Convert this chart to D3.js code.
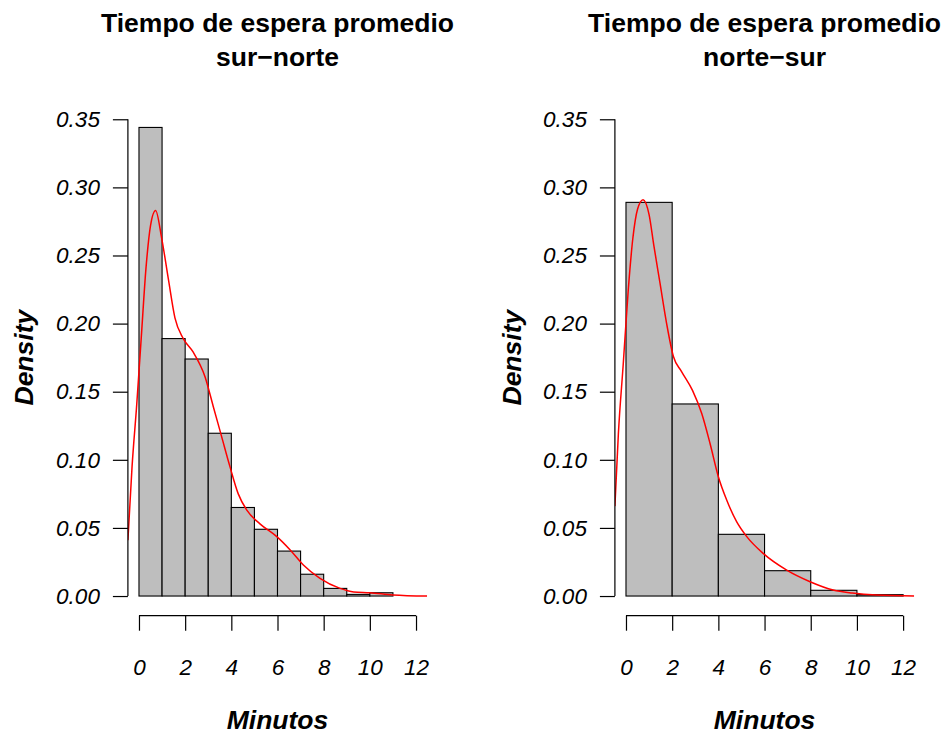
<!DOCTYPE html>
<html><head><meta charset="utf-8">
<script src="https://cdn.jsdelivr.net/npm/d3@7"></script>
<style>body{margin:0;background:#fff}svg{display:block}text{font-family:"Liberation Sans",Arial,Helvetica,sans-serif}</style>
</head><body><div id="chart"></div>
<script>
// ---- data ----
const titles = [["Tiempo de espera promedio","sur\u2212norte"],["Tiempo de espera promedio","norte\u2212sur"]];
const xLabel = "Minutos";
const yLabel = "Density";
const xTicks = [0,2,4,6,8,10,12];
const yTicks = [0,0.05,0.10,0.15,0.20,0.25,0.30,0.35];

const leftBreaks = [0,1,2,3,4,5,6,7,8,9,10,11];
const leftDensity = [0.344,0.189,0.174,0.1195,0.065,0.049,0.033,0.016,0.0056,0.0012,0.0024];
const leftKdeX = [-0.48,-0.3,-0.1,0.1,0.3,0.5,0.72,0.98,1.27,1.56,1.92,2.35,2.86,3.22,3.58,3.94,4.30,4.67,5.24,5.97,6.54,7.12,7.84,8.71,9.3,10.0,11.0,12.48];
const leftKdeY = [0.041,0.095,0.140,0.190,0.240,0.272,0.283,0.263,0.233,0.204,0.189,0.179,0.161,0.139,0.117,0.095,0.075,0.063,0.053,0.0436,0.034,0.0228,0.013,0.0056,0.003,0.0024,0.0008,0.0];

const rightBreaks = [0,2,4,6,8,10,12];
const rightDensity = [0.289,0.141,0.0453,0.0186,0.0042,0.001];
const rightKdeX = [-0.48,-0.33,-0.12,0.1,0.3,0.5,0.74,1.0,1.2,1.47,1.76,2.05,2.40,2.88,3.28,3.64,4.0,4.36,4.79,5.23,5.94,6.96,7.97,8.97,9.8,10.85,12.48];
const rightKdeY = [0.066,0.119,0.170,0.225,0.263,0.284,0.291,0.280,0.258,0.23,0.200,0.176,0.165,0.151,0.134,0.112,0.0876,0.0705,0.0546,0.0436,0.0313,0.019,0.0105,0.0044,0.0022,0.0007,0.0];

// ---- drawing ----
const W = 951, H = 736;
const svg = d3.select("#chart").append("svg").attr("width",W).attr("height",H);

const panels = [
  {left:127.9, right:427.1, breaks:leftBreaks, dens:leftDensity, kx:leftKdeX, ky:leftKdeY, title:titles[0], ylabX:33},
  {left:614.9, right:914.2, breaks:rightBreaks, dens:rightDensity, kx:rightKdeX, ky:rightKdeY, title:titles[1], ylabX:521}
];
const plotTop = 100.2, plotBottom = 615.1;
const fontFam = '"Liberation Sans",Arial,sans-serif';

panels.forEach((p,i)=>{
  const x = d3.scaleLinear().domain([-0.48,12.48]).range([p.left,p.right]);
  const y = d3.scaleLinear().domain([-0.014,0.364]).range([plotBottom,plotTop]);
  const g = svg.append("g");
  const clipId = "clip"+i;
  svg.append("clipPath").attr("id",clipId).append("rect")
    .attr("x",p.left).attr("y",plotTop).attr("width",p.right-p.left).attr("height",plotBottom-plotTop);

  // bars
  const bins = p.dens.map((d,j)=>({x0:p.breaks[j],x1:p.breaks[j+1],d}));
  g.selectAll("rect.bar").data(bins).enter().append("rect")
    .attr("x",b=>x(b.x0)).attr("width",b=>x(b.x1)-x(b.x0))
    .attr("y",b=>y(b.d)).attr("height",b=>y(0)-y(b.d))
    .attr("fill","#bebebe").attr("stroke","#000").attr("stroke-width",1.1);

  // density curve
  const pts = p.kx.map((v,j)=>[v,p.ky[j]]);
  g.append("path").datum(pts)
    .attr("clip-path","url(#"+clipId+")")
    .attr("d",d3.line().x(d=>x(d[0])).y(d=>y(d[1])).curve(d3.curveMonotoneX))
    .attr("fill","none").attr("stroke","#ff0000").attr("stroke-width",1.5);

  // y axis
  const ya = g.append("g").attr("transform",`translate(${p.left},0)`)
    .call(d3.axisLeft(y).tickValues(yTicks).tickSize(15).tickPadding(13).tickFormat(d3.format(".2f")));
  ya.select(".domain").attr("d",`M0,${y(0)}V${y(0.35)}`).attr("stroke","#000").attr("stroke-width",1.2);
  ya.selectAll(".tick line").attr("stroke","#000").attr("stroke-width",1.2);
  ya.selectAll(".tick text").attr("font-size",22.5).attr("font-style","italic").attr("fill","#000")
    .attr("font-family",fontFam);

  // x axis
  const xa = g.append("g").attr("transform",`translate(0,${plotBottom+0.6})`)
    .call(d3.axisBottom(x).tickValues(xTicks).tickSize(15).tickPadding(28).tickFormat(d3.format("d")));
  xa.select(".domain").attr("d",`M${x(0)},0H${x(12)}`).attr("stroke","#000").attr("stroke-width",1.2);
  xa.selectAll(".tick line").attr("stroke","#000").attr("stroke-width",1.2);
  xa.selectAll(".tick text").attr("font-size",22.5).attr("font-style","italic").attr("fill","#000")
    .attr("font-family",fontFam);

  const cx = (p.left+p.right)/2;
  // title
  g.append("text").attr("x",cx).attr("y",32).attr("text-anchor","middle")
    .attr("font-size",26.5).attr("font-weight","bold").text(p.title[0]);
  g.append("text").attr("x",cx).attr("y",66).attr("text-anchor","middle")
    .attr("font-size",26.5).attr("font-weight","bold").text(p.title[1]);
  // x label
  g.append("text").attr("x",cx).attr("y",729).attr("text-anchor","middle")
    .attr("font-size",26.5).attr("font-weight","bold").attr("font-style","italic").text(xLabel);
  // y label
  g.append("text").attr("transform",`translate(${p.ylabX},${(plotTop+plotBottom)/2}) rotate(-90)`)
    .attr("text-anchor","middle")
    .attr("font-size",26.5).attr("font-weight","bold").attr("font-style","italic").text(yLabel);
});
</script></body></html>
